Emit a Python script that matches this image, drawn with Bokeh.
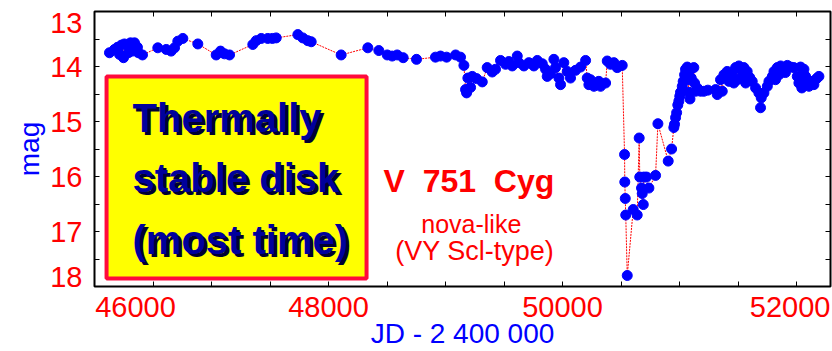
from bokeh.plotting import figure
from bokeh.models import Range1d, LinearAxis, FixedTicker, Label, BoxAnnotation, ColumnDataSource
from bokeh.embed import file_html
from bokeh.resources import INLINE

# Light curve of V751 Cyg: Julian date (JD - 2 400 000) and visual magnitude
jd = [
    46128, 46171, 46197, 46214, 46231, 46248, 46256, 46282, 46290, 46308,
    46325, 46342, 46367, 46375, 46410, 46541, 46613, 46655, 46684, 46712,
    46755, 46883, 47040, 47077, 47111, 47154, 47353, 47382, 47425, 47481,
    47520, 47553, 47738, 47780, 47823, 47852, 48108, 48336, 48430, 48502,
    48544, 48587, 48638, 48752, 48914, 48957, 49009, 49086, 49128, 49157,
    49171, 49180, 49191, 49214, 49228, 49265, 49314, 49356, 49399, 49427,
    49470, 49513, 49541, 49570, 49613, 49627, 49670, 49712, 49755, 49784,
    49827, 49855, 49869, 49897, 49926, 49940, 49969, 49983, 50011, 50040,
    50068, 50111, 50154, 50197, 50211, 50225, 50239, 50268, 50282, 50310,
    50325, 50368, 50382, 50410, 50439, 50467, 50510, 50530, 50532, 50536,
    50540, 50553, 50604, 50638, 50655, 50660, 50675, 50681, 50690, 50695,
    50718, 50738, 50795, 50815, 50903, 50932, 50951, 50957, 50966, 50975,
    50985, 50994, 51002, 51008, 51023, 51031, 51043, 51051, 51066, 51070,
    51081, 51089, 51094, 51100, 51122, 51128, 51137, 51151, 51180, 51208,
    51242, 51308, 51322, 51350, 51365, 51379, 51407, 51422, 51436, 51450,
    51464, 51479, 51493, 51507, 51521, 51535, 51550, 51565, 51578, 51600,
    51621, 51650, 51678, 51692, 51698, 51721, 51750, 51764, 51793, 51807,
    51820, 51835, 51850, 51864, 51893, 51905, 51921, 51949, 51977, 52006,
    52020, 52034, 52045, 52063, 52070, 52077, 52091, 52106, 52134, 52148,
    52171, 52191,
]
mag = [
    13.75, 13.69, 13.65, 13.78, 13.61, 13.84, 13.59, 13.61, 13.75, 13.57,
    13.72, 13.57, 13.65, 13.75, 13.79, 13.66, 13.69, 13.72, 13.66, 13.54,
    13.49, 13.59, 13.79, 13.72, 13.77, 13.79, 13.60, 13.53, 13.49, 13.49,
    13.49, 13.48, 13.42, 13.48, 13.53, 13.55, 13.79, 13.66, 13.71, 13.79,
    13.81, 13.79, 13.84, 13.87, 13.83, 13.81, 13.83, 13.79, 13.83, 13.98,
    14.42, 14.48, 14.21, 14.38, 14.18, 14.22, 14.28, 14.02, 14.10, 14.05,
    13.89, 13.96, 13.91, 13.99, 13.81, 13.93, 13.99, 13.93, 13.99, 13.89,
    13.95, 14.05, 14.18, 14.13, 13.87, 14.02, 14.21, 14.33, 13.93, 14.09,
    14.21, 14.07, 14.01, 13.89, 14.21, 14.33, 14.24, 14.36, 14.30, 14.27,
    14.36, 14.30, 13.90, 13.96, 13.93, 14.02, 13.98, 15.60, 16.10, 16.40,
    16.70, 17.80, 16.60, 16.70, 15.30, 16.01, 16.21, 16.31, 16.51, 16.01,
    16.01, 16.21, 15.98, 15.04, 15.72, 15.50, 15.11, 15.05, 14.93, 14.84,
    14.70, 14.63, 14.54, 14.47, 14.36, 14.27, 14.15, 14.05, 14.01, 14.24,
    14.47, 14.59, 14.05, 14.21, 14.02, 14.30, 14.45, 14.39, 14.45, 14.45,
    14.43, 14.42, 14.51, 14.24, 14.45, 14.15, 14.09, 14.27, 14.18, 14.11,
    14.30, 14.02, 14.24, 13.99, 14.05, 14.18, 14.02, 14.30, 14.09, 14.20,
    14.27, 14.39, 14.48, 14.75, 14.57, 14.48, 14.36, 14.27, 14.18, 14.09,
    14.24, 14.02, 14.15, 13.99, 14.02, 14.11, 13.98, 14.01, 14.02, 14.18,
    14.30, 14.01, 14.39, 14.05, 14.33, 14.18, 14.30, 14.36, 14.27, 14.33,
    14.22, 14.18,
]

x_ticks = [46000, 46500, 47000, 47500, 48000, 48500, 49000, 49500,
           50000, 50500, 51000, 51500, 52000]
y_ticks = [13.0, 13.5, 14.0, 14.5, 15.0, 15.5, 16.0, 16.5, 17.0, 17.5, 18.0]
x_tick_labels = ["46000", "48000", "50000", "52000"]
y_tick_labels = ["13", "14", "15", "16", "17", "18"]

X_START, X_END = 46000, 52290
Y_FAINT, Y_BRIGHT = 18.0, 13.0

# where each tick label sits; the outermost ones are pulled inside the frame
x_label_anchor = [46350, 48000, 50000, 51945]
y_label_anchor = [13.2, 14, 15, 16, 17, 17.82]

FONT = "Liberation Sans"
RED = "#ff0000"
BLUE = "#0000ff"

p = figure(
    width=832, height=351,
    x_range=Range1d(X_START, X_END),
    y_range=Range1d(Y_FAINT, Y_BRIGHT),
    output_backend="svg", toolbar_location=None,
    min_border_left=94, min_border_right=2,
    min_border_top=11, min_border_bottom=64,
    background_fill_color="white", border_fill_color="white",
)
p.grid.visible = False
p.outline_line_color = "black"
p.outline_line_width = 2


def tick_axis(ax, ticks):
    """Inward ticks only, no labels."""
    ax.ticker = FixedTicker(ticks=ticks)
    ax.major_tick_in = 5
    ax.major_tick_out = 0
    ax.major_tick_line_color = "black"
    ax.major_tick_line_width = 1
    ax.minor_tick_line_color = None
    ax.axis_line_color = None
    ax.major_label_text_font_size = "0px"
    ax.major_label_text_color = None
    ax.major_label_standoff = 0


def label_axis(ax, anchors, texts, standoff):
    """Tick labels only, no tick marks."""
    ax.ticker = FixedTicker(ticks=anchors)
    ax.major_label_overrides = {a: t for a, t in zip(anchors, texts)}
    ax.major_tick_line_color = None
    ax.major_tick_in = 0
    ax.major_tick_out = 0
    ax.minor_tick_line_color = None
    ax.axis_line_color = None
    ax.major_label_text_font = FONT
    ax.major_label_text_font_size = "29px"
    ax.major_label_text_color = RED
    ax.major_label_standoff = standoff


bottom_ticks = p.xaxis[0]
left_ticks = p.yaxis[0]
tick_axis(bottom_ticks, x_ticks)
tick_axis(left_ticks, y_ticks)

top_ticks = LinearAxis()
right_ticks = LinearAxis()
tick_axis(top_ticks, x_ticks)
tick_axis(right_ticks, y_ticks)
p.add_layout(top_ticks, "above")
p.add_layout(right_ticks, "right")

bottom_labels = LinearAxis()
left_labels = LinearAxis()
label_axis(bottom_labels, x_label_anchor, x_tick_labels, 10)
label_axis(left_labels, y_label_anchor, y_tick_labels, 12)
p.add_layout(bottom_labels, "below")
p.add_layout(left_labels, "left")

for ax, title, standoff in ((bottom_labels, "JD - 2 400 000", -2), (left_labels, "mag", 2)):
    ax.axis_label = title
    ax.axis_label_text_color = BLUE
    ax.axis_label_text_font = FONT
    ax.axis_label_text_font_size = "28px"
    ax.axis_label_text_font_style = "normal"
    ax.axis_label_standoff = standoff

# highlighted note box
p.add_layout(BoxAnnotation(left=46103, right=48325, top=14.18, bottom=17.855,
                           fill_color="#ffff00", fill_alpha=1.0,
                           line_color="#ff0a3c", line_width=4, line_alpha=1.0))

note_lines = ["Thermally", "stable disk", "(most time)"]
note_baselines = [14.93, 16.035, 17.15]
for txt, yb in zip(note_lines, note_baselines):
    for color, dx, dy in (("#000033", 3, -3), ("#00009c", 0, 0)):
        p.add_layout(Label(x=46325, y=yb, text=txt, text_align="left",
                           text_baseline="alphabetic", x_offset=dx, y_offset=dy,
                           text_font=FONT, text_font_size="40px",
                           text_font_style="bold", text_color=color))

# object name and class
p.add_layout(Label(x=49200, y=16.085, text="V\u00a0\u00a0751\u00a0\u00a0Cyg",
                   text_align="center", text_baseline="alphabetic",
                   text_font=FONT, text_font_size="32px", text_font_style="bold",
                   text_color=RED))
p.add_layout(Label(x=49220, y=16.86, text="nova-like", text_align="center",
                   text_baseline="alphabetic", text_font=FONT,
                   text_font_size="25px", text_color=RED))
p.add_layout(Label(x=49250, y=17.36, text="(VY Scl-type)", text_align="center",
                   text_baseline="alphabetic", text_font=FONT,
                   text_font_size="27px", text_color=RED))

src = ColumnDataSource(data=dict(jd=jd, mag=mag))
p.line("jd", "mag", source=src, line_color=RED, line_width=1, line_dash="2 1")
p.scatter("jd", "mag", source=src, size=10, fill_color=BLUE, line_color=BLUE)

open("out.html", "w").write(file_html(p, INLINE))
